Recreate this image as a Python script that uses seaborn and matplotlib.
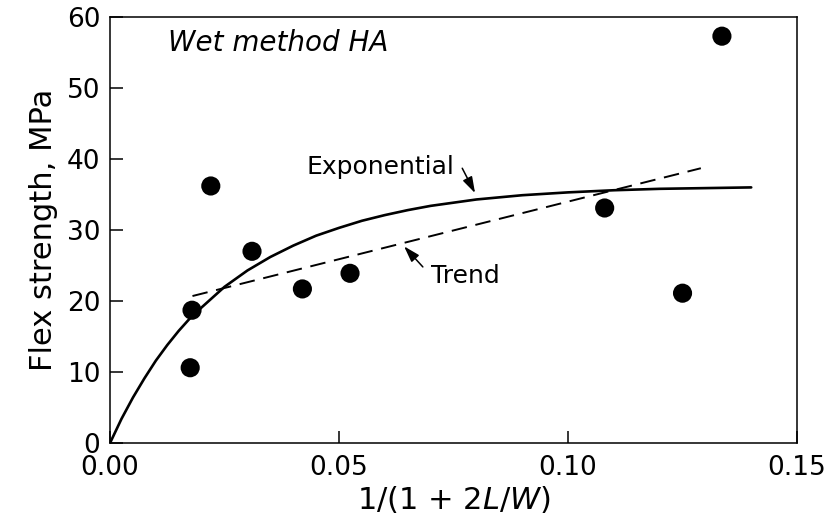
#!/usr/bin/env python3

import pandas as pd
import matplotlib
matplotlib.use("Agg")
import matplotlib.pyplot as plt
import seaborn as sns

sns.set_style("ticks")
plt.rcParams['font.family'] = ['DejaVu Sans']
plt.rcParams['text.color'] = 'black'
plt.rcParams['axes.labelcolor'] = 'black'
plt.rcParams['xtick.color'] = 'black'
plt.rcParams['ytick.color'] = 'black'
plt.rcParams['mathtext.fontset'] = 'custom'
plt.rcParams['mathtext.it'] = 'DejaVu Sans:italic'
plt.rcParams['mathtext.rm'] = 'DejaVu Sans'

# measured points
ratio = [0.0175, 0.0179, 0.0220, 0.0310, 0.0420, 0.0524, 0.1080, 0.1250, 0.1336]
strength = [10.6, 18.7, 36.2, 27.0, 21.7, 23.9, 33.1, 21.1, 57.3]

# exponential curve
exp_x = [0.0, 0.0025, 0.005, 0.0075, 0.010, 0.0125, 0.015, 0.0175, 0.020, 0.025,
         0.030, 0.035, 0.040, 0.045, 0.050, 0.055, 0.060, 0.065, 0.070, 0.080,
         0.090, 0.100, 0.110, 0.120, 0.130, 0.140]
exp_y = [0.0, 3.4, 6.4, 9.1, 11.6, 13.8, 15.8, 17.6, 19.1, 22.0,
         24.3, 26.2, 27.8, 29.2, 30.3, 31.3, 32.1, 32.8, 33.4, 34.3,
         34.9, 35.3, 35.6, 35.8, 35.9, 36.0]

# linear trend
trend_x = [0.018, 0.129]
trend_y = [20.7, 38.7]

fig = plt.figure(figsize=(8.28, 5.25), dpi=100)
ax = fig.add_axes([0.1329, 0.1562, 0.8297, 0.8114])

sns.lineplot(x=exp_x, y=exp_y, color='black', linewidth=1.9, ax=ax)
sns.lineplot(x=trend_x, y=trend_y, color='black', linewidth=1.4, ax=ax)
ax.lines[-1].set_dashes([8, 4.5])
sns.scatterplot(x=ratio, y=strength, color='black', s=190, edgecolor='none', ax=ax, zorder=5)

ax.set_xlim(0, 0.15)
ax.set_ylim(0, 60)
ax.set_xticks([0, 0.05, 0.10, 0.15])
ax.set_xticklabels(['0.00', '0.05', '0.10', '0.15'])
ax.set_yticks([0, 10, 20, 30, 40, 50, 60])
ax.tick_params(direction='in', length=9, width=1.1, labelsize=19, color='black', pad=7)
ax.tick_params(axis='x', pad=9)
for s in ax.spines.values():
    s.set_linewidth(1.1)
    s.set_color('black')

ax.set_xlabel('1/(1 + 2$\\it{L}$/$\\it{W}$)', fontsize=22, labelpad=2)
ax.set_ylabel('Flex strength, MPa', fontsize=22, labelpad=6)

ax.text(0.0127, 56.4, 'Wet method HA', fontsize=20, style='italic', va='center', ha='left')

ax.text(0.0590, 37.9, 'Exponential', fontsize=18, ha='center', va='baseline')
ax.text(0.0775, 22.5, 'Trend', fontsize=18, ha='center', va='baseline')
arrow = dict(arrowstyle='-|>,head_length=0.7,head_width=0.22', color='black', lw=1.1,
             mutation_scale=14, shrinkA=0, shrinkB=0)
ax.annotate('', xy=(0.0797, 35.2), xytext=(0.0769, 38.7), arrowprops=arrow)
ax.annotate('', xy=(0.0642, 27.7), xytext=(0.0683, 24.8), arrowprops=arrow)

fig.savefig('out.png', dpi=100)
